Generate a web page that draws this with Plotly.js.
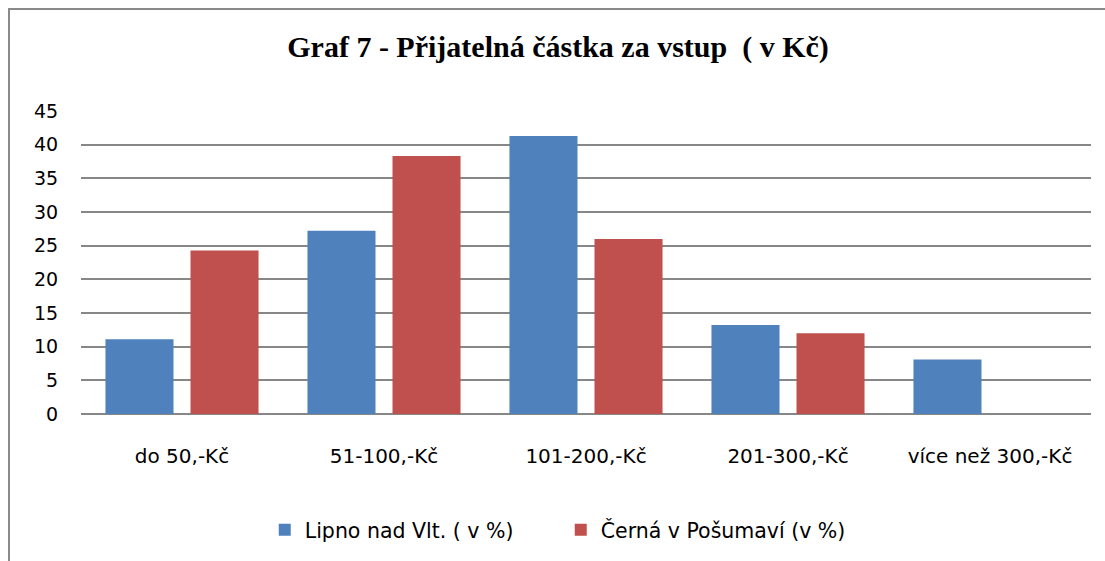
<!DOCTYPE html>
<html>
<head>
<meta charset="utf-8">
<script src="https://cdn.plot.ly/plotly-3.0.1.min.js"></script>
<style>
html,body{margin:0;padding:0;background:#fff;}
#chart{position:absolute;left:0;top:0;width:1105px;height:561px;}
#frame{position:absolute;left:8px;top:8px;width:1105px;height:561px;border-left:2px solid #8a8a8a;border-top:2px solid #8a8a8a;pointer-events:none;}
</style>
</head>
<body>
<div id="chart"></div>
<div id="frame"></div>
<script>
const categories = ["do 50,-Kč", "51-100,-Kč", "101-200,-Kč", "201-300,-Kč", "více než 300,-Kč"];
const lipno = [11.1, 27.2, 41.3, 13.2, 8.1];
const cerna = [24.3, 38.3, 26.0, 12.0, 0];
const seriesNames = ["Lipno nad Vlt. ( v %)", "Černá v Pošumaví (v %)"];
const yTicks = [0, 5, 10, 15, 20, 25, 30, 35, 40, 45];

const font = "DejaVu Sans, sans-serif";
const traces = [
  {type: "bar", x: categories, y: lipno, name: seriesNames[0], marker: {color: "#4F81BD"}},
  {type: "bar", x: categories, y: cerna, name: seriesNames[1], marker: {color: "#C0504D"}}
];
const layout = {
  width: 1105, height: 561,
  margin: {l: 81, r: 14, t: 111, b: 146},
  paper_bgcolor: "#ffffff", plot_bgcolor: "#ffffff",
  barmode: "group", bargap: 0.158, bargroupgap: 0.2,
  showlegend: true,
  title: {text: "<b>Graf 7 - Přijatelná částka za vstup  ( v Kč)</b>",
          font: {family: "Liberation Serif, serif", size: 30, color: "#000"},
          x: 0.505, xanchor: "center", y: 0.918, yanchor: "middle"},
  xaxis: {type: "category", showgrid: false, zeroline: false, showline: false,
          ticks: "outside", ticklen: 24, tickcolor: "rgba(0,0,0,0)",
          tickfont: {family: font, size: 20, color: "#000"}},
  yaxis: {range: [0, 45], tickvals: yTicks, ticktext: yTicks.map(String),
          showgrid: true, gridcolor: "#878787", gridwidth: 2,
          zeroline: true, zerolinecolor: "#878787", zerolinewidth: 2,
          showline: false, ticks: "outside", ticklen: 18, tickcolor: "rgba(0,0,0,0)",
          tickfont: {family: font, size: 19, color: "#000"}},
  legend: {orientation: "h", x: 0.475, xanchor: "center", y: -0.378, yanchor: "middle",
           font: {family: font, size: 20.5, color: "#000"}, itemwidth: 30,
           entrywidth: 251, traceorder: "normal"}
};
Plotly.newPlot("chart", traces, layout, {displayModeBar: false, staticPlot: true});
</script>
</body>
</html>
